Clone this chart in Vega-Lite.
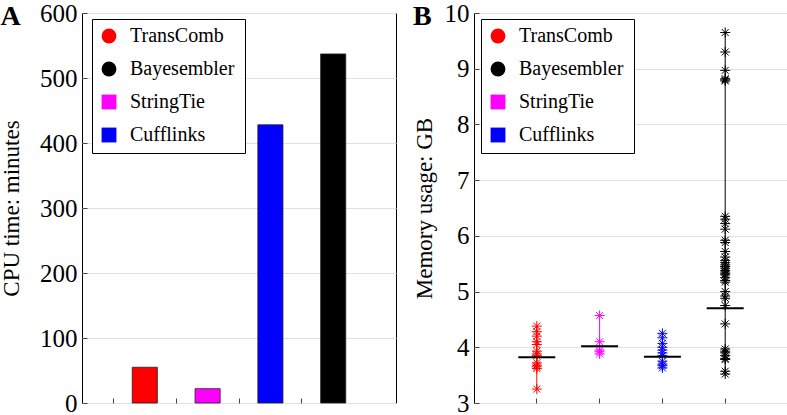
{
  "$schema": "https://vega.github.io/schema/vega-lite/v6.json",
  "padding": 0,
  "background": "white",
  "spacing": 15,
  "config": {
    "font": "Liberation Serif",
    "view": {"stroke": "black", "strokeWidth": 1},
    "axis": {"domain": false, "gridColor": "#e0e0e0", "gridWidth": 1, "tickColor": "#444", "labelColor": "black", "titleColor": "black", "titleFontWeight": "normal", "labelFont": "Liberation Serif", "titleFont": "Liberation Serif", "labelFontSize": 25, "titleFontSize": 23},
    "legend": {"labelFont": "Liberation Serif", "titleFont": "Liberation Serif"}
  },
  "datasets": {
    "cpu": [
      {"method": "TransComb", "cpu": 55},
      {"method": "StringTie", "cpu": 22},
      {"method": "Cufflinks", "cpu": 428},
      {"method": "Bayesembler", "cpu": 537}
    ],
    "centers": [
      {"method": "TransComb", "center": 3.82},
      {"method": "StringTie", "center": 4.02},
      {"method": "Cufflinks", "center": 3.83},
      {"method": "Bayesembler", "center": 4.70}
    ],
    "mem": [
      {"method": "TransComb", "memory": 4.38}, {"method": "TransComb", "memory": 4.28}, {"method": "TransComb", "memory": 4.20}, {"method": "TransComb", "memory": 4.10}, {"method": "TransComb", "memory": 4.05}, {"method": "TransComb", "memory": 3.93}, {"method": "TransComb", "memory": 3.88}, {"method": "TransComb", "memory": 3.85}, {"method": "TransComb", "memory": 3.72}, {"method": "TransComb", "memory": 3.68}, {"method": "TransComb", "memory": 3.65}, {"method": "TransComb", "memory": 3.62}, {"method": "TransComb", "memory": 3.25},
      {"method": "StringTie", "memory": 4.57}, {"method": "StringTie", "memory": 4.10}, {"method": "StringTie", "memory": 3.95}, {"method": "StringTie", "memory": 3.92}, {"method": "StringTie", "memory": 3.88},
      {"method": "Cufflinks", "memory": 4.25}, {"method": "Cufflinks", "memory": 4.17}, {"method": "Cufflinks", "memory": 4.07}, {"method": "Cufflinks", "memory": 4.00}, {"method": "Cufflinks", "memory": 3.95}, {"method": "Cufflinks", "memory": 3.90}, {"method": "Cufflinks", "memory": 3.85}, {"method": "Cufflinks", "memory": 3.75}, {"method": "Cufflinks", "memory": 3.70}, {"method": "Cufflinks", "memory": 3.67}, {"method": "Cufflinks", "memory": 3.63},
      {"method": "Bayesembler", "memory": 9.65}, {"method": "Bayesembler", "memory": 9.30}, {"method": "Bayesembler", "memory": 8.97}, {"method": "Bayesembler", "memory": 8.82}, {"method": "Bayesembler", "memory": 8.80}, {"method": "Bayesembler", "memory": 8.78}, {"method": "Bayesembler", "memory": 6.35}, {"method": "Bayesembler", "memory": 6.30}, {"method": "Bayesembler", "memory": 6.22}, {"method": "Bayesembler", "memory": 6.12}, {"method": "Bayesembler", "memory": 5.92}, {"method": "Bayesembler", "memory": 5.88}, {"method": "Bayesembler", "memory": 5.72}, {"method": "Bayesembler", "memory": 5.62}, {"method": "Bayesembler", "memory": 5.56}, {"method": "Bayesembler", "memory": 5.52}, {"method": "Bayesembler", "memory": 5.48}, {"method": "Bayesembler", "memory": 5.45}, {"method": "Bayesembler", "memory": 5.42}, {"method": "Bayesembler", "memory": 5.38}, {"method": "Bayesembler", "memory": 5.35}, {"method": "Bayesembler", "memory": 5.32}, {"method": "Bayesembler", "memory": 5.30}, {"method": "Bayesembler", "memory": 5.25}, {"method": "Bayesembler", "memory": 5.20}, {"method": "Bayesembler", "memory": 5.17}, {"method": "Bayesembler", "memory": 5.00}, {"method": "Bayesembler", "memory": 4.92}, {"method": "Bayesembler", "memory": 4.88}, {"method": "Bayesembler", "memory": 4.75}, {"method": "Bayesembler", "memory": 4.42}, {"method": "Bayesembler", "memory": 3.97}, {"method": "Bayesembler", "memory": 3.93}, {"method": "Bayesembler", "memory": 3.90}, {"method": "Bayesembler", "memory": 3.85}, {"method": "Bayesembler", "memory": 3.80}, {"method": "Bayesembler", "memory": 3.78}, {"method": "Bayesembler", "memory": 3.57}, {"method": "Bayesembler", "memory": 3.52}
    ]
  },
  "hconcat": [
    {
      "width": 314,
      "height": 390,
      "title": {"text": "A", "anchor": "start", "offset": -30, "fontSize": 28, "font": "Liberation Serif", "fontWeight": "bold", "color": "black"},
      "data": {"name": "cpu"},
      "resolve": {"scale": {"color": "independent", "shape": "independent"}, "legend": {"color": "independent", "shape": "independent"}},
      "encoding": {
        "x": {"field": "method", "type": "nominal", "sort": ["TransComb", "StringTie", "Cufflinks", "Bayesembler"], "scale": {"paddingInner": 0, "paddingOuter": 0.5}, "axis": {"title": null, "labels": false, "bandPosition": 0, "tickSize": -5, "grid": false}},
        "y": {"field": "cpu", "type": "quantitative", "scale": {"domain": [0, 600]}, "axis": {"title": "CPU time: minutes", "values": [0, 100, 200, 300, 400, 500, 600], "format": "d", "tickSize": -5, "labelPadding": 10, "titlePadding": 16}}
      },
      "layer": [
        {
          "mark": {"type": "bar", "width": {"band": 0.4}, "stroke": "#222", "strokeWidth": 0.8},
          "encoding": {"color": {"field": "method", "type": "nominal", "scale": {"domain": ["TransComb", "Bayesembler", "StringTie", "Cufflinks"], "range": ["#ff0000", "#000000", "#ff00ff", "#0000ff"]}, "legend": null}}
        },
        {
          "mark": {"type": "point", "filled": true, "opacity": 0},
          "encoding": {
            "color": {"field": "method", "type": "nominal", "scale": {"domain": ["TransComb", "Bayesembler", "StringTie", "Cufflinks"], "range": ["#ff0000", "#000000", "#ff00ff", "#0000ff"]}, "legend": {"title": " ", "titleOrient": "right", "titlePadding": 4, "titleFontSize": 1, "orient": "none", "legendX": 10, "legendY": 6, "strokeColor": "black", "fillColor": "white", "padding": 7, "rowPadding": 11, "symbolSize": 220, "symbolOpacity": 1, "labelFontSize": 20, "labelOffset": 11, "labelColor": "black"}},
            "shape": {"field": "method", "type": "nominal", "scale": {"domain": ["TransComb", "Bayesembler", "StringTie", "Cufflinks"], "range": ["circle", "circle", "square", "square"]}, "legend": {"title": " ", "titleOrient": "right", "titlePadding": 4, "titleFontSize": 1, "orient": "none", "legendX": 10, "legendY": 6, "strokeColor": "black", "fillColor": "white", "padding": 7, "rowPadding": 11, "symbolSize": 220, "symbolOpacity": 1, "labelFontSize": 20, "labelOffset": 11, "labelColor": "black"}}
          }
        }
      ]
    },
    {
      "width": 314,
      "height": 390,
      "title": {"text": "B", "anchor": "start", "offset": -30, "fontSize": 28, "font": "Liberation Serif", "fontWeight": "bold", "color": "black"},
      "resolve": {"scale": {"color": "independent", "shape": "independent"}, "legend": {"color": "independent", "shape": "independent"}},
      "layer": [
        {
          "data": {"name": "mem"},
          "mark": {"type": "rule", "strokeWidth": 1},
          "encoding": {
            "x": {"field": "method", "type": "nominal", "sort": ["TransComb", "StringTie", "Cufflinks", "Bayesembler"], "scale": {"paddingInner": 0, "paddingOuter": 0.5}, "axis": {"title": null, "labels": false, "tickSize": -5, "grid": false}},
            "y": {"aggregate": "min", "field": "memory", "type": "quantitative", "scale": {"domain": [3, 10]}, "axis": {"title": "Memory usage: GB", "values": [3, 4, 5, 6, 7, 8, 9, 10], "format": "d", "tickSize": -5, "labelPadding": 10, "titlePadding": 8}},
            "y2": {"aggregate": "max", "field": "memory"},
            "color": {"field": "method", "type": "nominal", "scale": {"domain": ["TransComb", "Bayesembler", "StringTie", "Cufflinks"], "range": ["#ff0000", "#000000", "#ff00ff", "#0000ff"]}, "legend": null}
          }
        },
        {
          "data": {"name": "mem"},
          "mark": {"type": "point", "filled": false, "shape": "M-1,0L1,0M0,-1L0,1M-0.7,-0.7L0.7,0.7M-0.7,0.7L0.7,-0.7", "size": 100, "strokeWidth": 1, "opacity": 1},
          "encoding": {
            "x": {"field": "method", "type": "nominal", "sort": ["TransComb", "StringTie", "Cufflinks", "Bayesembler"]},
            "y": {"field": "memory", "type": "quantitative"},
            "color": {"field": "method", "type": "nominal", "scale": {"domain": ["TransComb", "Bayesembler", "StringTie", "Cufflinks"], "range": ["#ff0000", "#000000", "#ff00ff", "#0000ff"]}, "legend": null}
          }
        },
        {
          "data": {"name": "centers"},
          "mark": {"type": "tick", "color": "black", "opacity": 1, "size": 37, "thickness": 2},
          "encoding": {
            "x": {"field": "method", "type": "nominal", "sort": ["TransComb", "StringTie", "Cufflinks", "Bayesembler"]},
            "y": {"field": "center", "type": "quantitative"}
          }
        },
        {
          "data": {"name": "centers"},
          "mark": {"type": "point", "filled": true, "opacity": 0},
          "encoding": {
            "x": {"field": "method", "type": "nominal", "sort": ["TransComb", "StringTie", "Cufflinks", "Bayesembler"]},
            "y": {"field": "center", "type": "quantitative"},
            "color": {"field": "method", "type": "nominal", "scale": {"domain": ["TransComb", "Bayesembler", "StringTie", "Cufflinks"], "range": ["#ff0000", "#000000", "#ff00ff", "#0000ff"]}, "legend": {"title": " ", "titleOrient": "right", "titlePadding": 4, "titleFontSize": 1, "orient": "none", "legendX": 7, "legendY": 6, "strokeColor": "black", "fillColor": "white", "padding": 7, "rowPadding": 11, "symbolSize": 220, "symbolOpacity": 1, "labelFontSize": 20, "labelOffset": 11, "labelColor": "black"}},
            "shape": {"field": "method", "type": "nominal", "scale": {"domain": ["TransComb", "Bayesembler", "StringTie", "Cufflinks"], "range": ["circle", "circle", "square", "square"]}, "legend": {"title": " ", "titleOrient": "right", "titlePadding": 4, "titleFontSize": 1, "orient": "none", "legendX": 7, "legendY": 6, "strokeColor": "black", "fillColor": "white", "padding": 7, "rowPadding": 11, "symbolSize": 220, "symbolOpacity": 1, "labelFontSize": 20, "labelOffset": 11, "labelColor": "black"}}
          }
        }
      ]
    }
  ]
}
